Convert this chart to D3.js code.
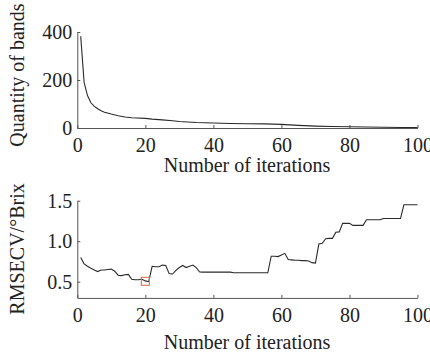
<!DOCTYPE html>
<html>
<head>
<meta charset="utf-8">
<script src="https://cdn.jsdelivr.net/npm/d3@7"></script>
<style>
  body { margin: 0; background: #fff; }
</style>
</head>
<body>
<svg id="chart" width="430" height="353"></svg>
<script>
// top panel: number of selected bands per iteration
const bandIters = [1, 2, 3, 4, 5, 6, 7, 8, 10, 12, 14, 16, 20, 22, 25, 28, 30, 35, 40, 45, 50, 55, 60, 65, 70, 75, 80, 85, 90, 95, 100];
const bandCounts = [382, 190, 135, 105, 90, 80, 72, 66, 58, 51, 46, 43, 40, 37, 34, 30, 27, 23, 21, 19, 18, 17, 15, 11, 8, 6, 5, 4, 3, 2, 2];

// bottom panel: RMSECV for iterations 1..100
const rmseIters = d3.range(1, 101);
const rmseValues = [
  0.80, 0.72, 0.69, 0.665, 0.645, 0.625, 0.645, 0.645, 0.65, 0.655,
  0.63, 0.58, 0.575, 0.585, 0.59, 0.53, 0.525, 0.525, 0.53, 0.51,
  0.50, 0.69, 0.685, 0.685, 0.705, 0.70, 0.60, 0.595, 0.64, 0.675,
  0.70, 0.675, 0.69, 0.705, 0.67, 0.62, 0.618, 0.618, 0.618, 0.618,
  0.618, 0.618, 0.618, 0.618, 0.618, 0.61, 0.61, 0.61, 0.61, 0.61,
  0.61, 0.61, 0.61, 0.61, 0.61, 0.61, 0.815, 0.815, 0.81, 0.83,
  0.85, 0.775, 0.77, 0.765, 0.765, 0.76, 0.76, 0.755, 0.735, 0.73,
  0.965, 0.975, 1.03, 1.035, 1.035, 1.11, 1.115, 1.22, 1.22, 1.22,
  1.195, 1.195, 1.195, 1.195, 1.265, 1.265, 1.265, 1.265, 1.265, 1.28,
  1.28, 1.28, 1.28, 1.28, 1.28, 1.45, 1.45, 1.45, 1.45, 1.45
];
const bestIter = 20;
const bestValue = 0.505;

const xTicks = [0, 20, 40, 60, 80, 100];
const bandTicks = [0, 200, 400];
const rmseTicks = [0.5, 1.0, 1.5];

const svg = d3.select("#chart");
const fontFam = "Liberation Serif";
const tickFont = "20px";
const titleFont = "20px";

const x = d3.scaleLinear().domain([0, 100]).range([77.3, 417.5]);
const yTop = d3.scaleLinear().domain([0, 400]).range([128, 32]);
const yBot = d3.scaleLinear().domain([0.3, 1.5]).range([297.9, 200.7]);

function drawPanel(y, yTicks, yFormat, axisY) {
    // x axis, ticks pointing inward
    const gx = svg.append("g")
        .attr("transform", `translate(0, ${axisY})`)
        .call(d3.axisBottom(x).tickValues(xTicks).tickSizeInner(-3).tickSizeOuter(0).tickPadding(10));
    gx.selectAll("text")
        .style("font-family", fontFam)
        .style("font-size", tickFont)
        .attr("fill", "#222");

    // y axis
    const gy = svg.append("g")
        .attr("transform", `translate(${x(0)}, 0)`)
        .call(d3.axisLeft(y).tickValues(yTicks).tickFormat(yFormat).tickSizeInner(-3).tickSizeOuter(0).tickPadding(5));
    gy.selectAll("text")
        .style("font-family", fontFam)
        .style("font-size", tickFont)
        .attr("fill", "#222");

    svg.selectAll(".domain, .tick line").attr("stroke", "#555");
}

drawPanel(yTop, bandTicks, d3.format("d"), yTop(0));
drawPanel(yBot, rmseTicks, d3.format(".1f"), yBot(0.3));

// curves
svg.append("path")
    .datum(bandIters.map((d, i) => [d, bandCounts[i]]))
    .attr("fill", "none")
    .attr("stroke", "#2a2a2a")
    .attr("stroke-width", 1.1)
    .attr("d", d3.line().x(d => x(d[0])).y(d => yTop(d[1])));

svg.append("path")
    .datum(rmseIters.map((d, i) => [d, rmseValues[i]]))
    .attr("fill", "none")
    .attr("stroke", "#2a2a2a")
    .attr("stroke-width", 1.1)
    .attr("d", d3.line().x(d => x(d[0])).y(d => yBot(d[1])));

// minimum RMSECV marker
svg.append("rect")
    .attr("x", x(bestIter) - 4)
    .attr("y", yBot(bestValue) - 4)
    .attr("width", 8)
    .attr("height", 8)
    .attr("fill", "none")
    .attr("stroke", "#e0704f")
    .attr("stroke-width", 1.1);

// axis titles
const titles = [
    { t: "Number of iterations", tr: "translate(247, 172)" },
    { t: "Number of iterations", tr: "translate(247, 349)" },
    { t: "Quantity of bands", tr: "translate(24, 75) rotate(-90)" },
    { t: "RMSECV/°Brix", tr: "translate(24, 249) rotate(-90)" }
];
titles.forEach(d => {
    svg.append("text")
        .attr("transform", d.tr)
        .attr("text-anchor", "middle")
        .style("font-family", fontFam)
        .style("font-size", titleFont)
        .attr("fill", "#222")
        .text(d.t);
});
</script>
</body>
</html>
